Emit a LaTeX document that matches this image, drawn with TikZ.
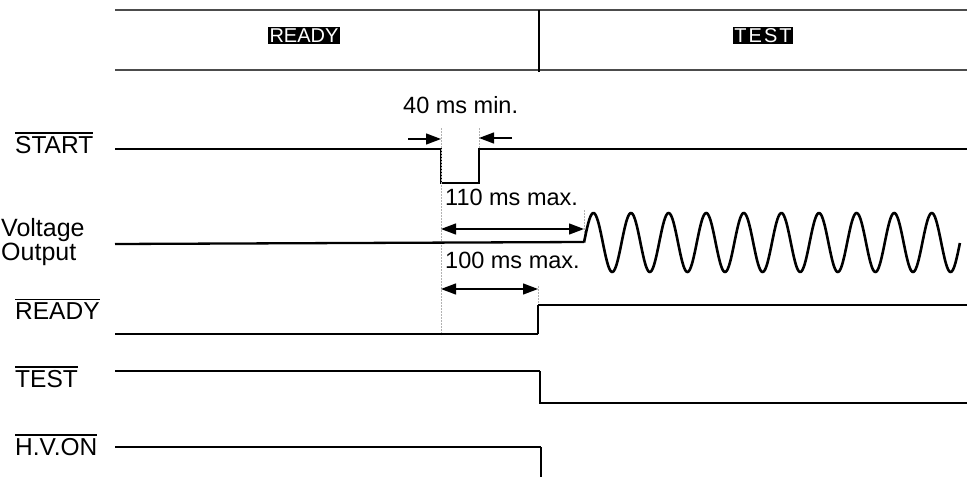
\documentclass[tikz,border=0pt]{standalone}
\usepackage{fontspec}
\setmainfont{Liberation Sans}
\usetikzlibrary{arrows.meta}
\newcommand\barlabel[1]{\vbox{\hrule height 1.8pt\kern 1.8pt\hbox{#1}}}
\begin{document}
\begin{tikzpicture}[x=1pt,y=-1pt,
  sig/.style={line width=2.6pt, line join=miter},
  thinsig/.style={line width=1.1pt},
  hdr/.style={line width=2.6pt, black!70},
  guide/.style={gray!60, line width=0.5pt, dash pattern=on 2pt off 1pt},
  dimone/.style={line width=1.3pt, -{Triangle[length=15pt,width=11pt]}},
  dimboth/.style={line width=1.3pt, {Triangle[length=15pt,width=11pt]}-{Triangle[length=15pt,width=11pt]}},
  lbl/.style={font=\fontsize{24.5}{25}\selectfont, inner sep=0pt, anchor=base west},
  note/.style={font=\fontsize{23.5}{24}\selectfont, inner sep=0pt, anchor=base west},
  mode/.style={fill=black, text=white, font=\fontsize{20}{21}\selectfont, inner sep=1.8pt}]
\useasboundingbox (0,0) rectangle (967,477);
% header
\coordinate (h1l) at (115,10); \coordinate (h1r) at (967,10);
\coordinate (h2l) at (115,70); \coordinate (h2r) at (967,70);
\coordinate (dv1) at (539,10); \coordinate (dv2) at (539,72);
\draw[hdr] (h1l) -- (h1r);
\draw[hdr] (h2l) -- (h2r);
\draw[line width=1.4pt] (dv1) -- (dv2);
\node[mode] (mready) at (304,35.5) {READY};
\node[mode] (mtest) at (763,35.5) {\addfontfeatures{LetterSpace=10}TEST};
% labels
\node[lbl] (lstart) at (15,153) {\barlabel{START}};
\node[font=\fontsize{25}{22}\selectfont, inner sep=0pt, align=left, anchor=west] (lvolt) at (1,242) {Voltage\\Output};
\node[lbl] (lready) at (15,319) {\barlabel{READY}};
\node[lbl] (ltest) at (15,387) {\barlabel{TEST}};
\node[lbl] (lhv) at (15,455) {\barlabel{H.V.ON}};
% START
\coordinate (s0) at (115,149); \coordinate (s1) at (441,149);
\coordinate (s2) at (441,183); \coordinate (s3) at (479,183);
\coordinate (s4) at (479,149); \coordinate (s5) at (967,149);
\draw[sig] (s0) -- (s1) -- (s2) -- (s3) -- (s4) -- (s5);
% guides
\coordinate (g1t) at (441,128); \coordinate (g1b) at (441,335);
\coordinate (g2t) at (479,128); \coordinate (g2b) at (479,149);
\coordinate (g3t) at (584,210); \coordinate (g3b) at (584,242);
\coordinate (g4t) at (538,286); \coordinate (g4b) at (538,334);
\draw[guide] (g1t) -- (g1b);
\draw[guide] (g2t) -- (g2b);
\draw[guide] (g3t) -- (g3b);
\draw[guide] (g4t) -- (g4b);
% 40 ms min
\coordinate (a1s) at (408,139); \coordinate (a1e) at (441,139);
\coordinate (a2s) at (512,138); \coordinate (a2e) at (479,138);
\draw[dimone] (a1s) -- (a1e);
\draw[dimone] (a2s) -- (a2e);
\node[note] (t40) at (403,113) {40 ms min.};
% Voltage output
\coordinate (v0) at (115,244); \coordinate (v1) at (584,242);
\draw[sig, line width=2.3pt] (v0) -- (v1);
\draw[sig, line width=2.6pt, line join=round] plot[domain=0:10, samples=500, smooth] ({584+\x*37.6},{242.5-29.5*sin(\x*360)});
\coordinate (b1s) at (441,229); \coordinate (b1e) at (584,229);
\draw[dimboth] (b1s) -- (b1e);
\node[note] (t110) at (445,205) {110 ms max.};
\coordinate (c1s) at (441,289); \coordinate (c1e) at (538,289);
\draw[dimboth] (c1s) -- (c1e);
\node[note] (t100) at (445,268) {100 ms max.};
% READY
\coordinate (r0) at (115,334); \coordinate (r1) at (538,334);
\coordinate (r2) at (538,305); \coordinate (r3) at (967,305);
\draw[thinsig] (r0) -- (r1);
\draw[thinsig] (r1) -- (r2);
\draw[sig] (r2) -- (r3);
% TEST
\coordinate (t0) at (115,371); \coordinate (t1) at (540,371);
\coordinate (t2) at (540,403); \coordinate (t3) at (967,403);
\draw[sig] (t0) -- (t1);
\draw[thinsig] (t1) -- (t2) -- (t3);
% H.V.ON
\coordinate (hv0) at (115,447); \coordinate (hv1) at (541,447);
\coordinate (hv2) at (541,477);
\draw[sig] (hv0) -- (hv1);
\draw[thinsig] (hv1) -- (hv2);
\end{tikzpicture}
\end{document}
